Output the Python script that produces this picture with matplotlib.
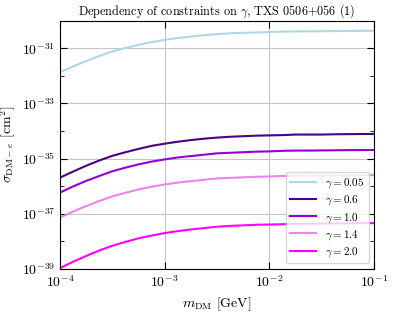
import matplotlib
matplotlib.use("Agg")
import matplotlib.pyplot as plt
import matplotlib.ticker as mticker
import numpy as np

plt.rcParams['font.family'] = 'serif'
plt.rcParams['font.serif'] = ['cmr10']
plt.rcParams['mathtext.fontset'] = 'cm'
plt.rcParams['axes.formatter.use_mathtext'] = True

# log10 of DM mass [GeV]
log_m = [-4.0, -3.875, -3.75, -3.625, -3.5, -3.375, -3.25, -3.125, -3.0,
         -2.875, -2.75, -2.625, -2.5, -2.375, -2.25, -2.125, -2.0,
         -1.875, -1.75, -1.625, -1.5, -1.375, -1.25, -1.125, -1.0]

# log10 of sigma_DM-e [cm^2] for each gamma
sig_005 = [-31.87, -31.66, -31.465, -31.285, -31.12, -30.99, -30.88, -30.78, -30.70,
           -30.63, -30.58, -30.53, -30.49, -30.46, -30.445, -30.43, -30.415,
           -30.40, -30.39, -30.39, -30.385, -30.38, -30.375, -30.37, -30.37]
sig_06 = [-35.69, -35.47, -35.26, -35.07, -34.90, -34.77, -34.65, -34.54, -34.46,
          -34.39, -34.33, -34.28, -34.24, -34.21, -34.19, -34.17, -34.16,
          -34.15, -34.13, -34.13, -34.13, -34.12, -34.115, -34.11, -34.11]
sig_10 = [-36.23, -36.01, -35.81, -35.63, -35.46, -35.33, -35.21, -35.11, -35.03,
          -34.96, -34.91, -34.86, -34.81, -34.79, -34.77, -34.75, -34.74,
          -34.72, -34.71, -34.71, -34.705, -34.70, -34.695, -34.69, -34.69]
sig_14 = [-37.14, -36.92, -36.72, -36.54, -36.37, -36.24, -36.12, -36.02, -35.94,
          -35.87, -35.82, -35.77, -35.72, -35.70, -35.68, -35.66, -35.65,
          -35.63, -35.62, -35.62, -35.615, -35.61, -35.605, -35.60, -35.60]
sig_20 = [-38.97, -38.74, -38.53, -38.33, -38.16, -38.02, -37.89, -37.79, -37.70,
          -37.63, -37.57, -37.52, -37.47, -37.44, -37.42, -37.40, -37.39,
          -37.38, -37.36, -37.36, -37.36, -37.35, -37.345, -37.34, -37.34]

labels = [r'$\gamma = 0.05$', r'$\gamma = 0.6$', r'$\gamma = 1.0$', r'$\gamma = 1.4$', r'$\gamma = 2.0$']
colors = ['lightblue', 'indigo', 'darkviolet', 'violet', 'magenta']

xticks = [1e-4, 1e-3, 1e-2, 1e-1]
yticks_major = [1e-39, 1e-37, 1e-35, 1e-33, 1e-31]
yticks_minor = [1e-38, 1e-36, 1e-34, 1e-32]

fig = plt.figure(figsize=(3.95, 3.12), dpi=100)
ax = fig.add_axes([0.152, 0.138, 0.795, 0.796])

m = 10 ** np.array(log_m)
for s, lab, c in zip([sig_005, sig_06, sig_10, sig_14, sig_20], labels, colors):
    ax.plot(m, 10 ** np.array(s), color=c, lw=1.5, label=lab)

ax.set_xscale('log')
ax.set_yscale('log')
ax.set_xlim(1e-4, 1e-1)
ax.set_ylim(1e-39, 1e-30)

ax.xaxis.set_major_locator(mticker.FixedLocator(xticks))
ax.xaxis.set_minor_locator(mticker.NullLocator())
ax.yaxis.set_major_locator(mticker.FixedLocator(yticks_major))
ax.yaxis.set_minor_locator(mticker.FixedLocator(yticks_minor))
ax.yaxis.set_minor_formatter(mticker.NullFormatter())

ax.tick_params(which='both', direction='in', top=True, right=True, labelsize=10)
ax.tick_params(which='major', length=5)
ax.tick_params(which='minor', length=3)
ax.grid(True, which='major', color='#c4c4c4', lw=0.8)

ax.set_xlabel(r'$m_{\rm DM}$ [GeV]', fontsize=10)
ax.set_ylabel(r'$\sigma_{{\rm DM}-e}$ [cm$^2$]', fontsize=10)
ax.yaxis.set_label_coords(-0.135, 0.5)
ax.set_title(r'Dependency of constraints on $\gamma$, TXS 0506+056 (1)', fontsize=8.8, pad=4)
ax.legend(loc='lower right', fontsize=8, handlelength=2.3, labelspacing=0.3)

fig.savefig('out.png', dpi=100)
